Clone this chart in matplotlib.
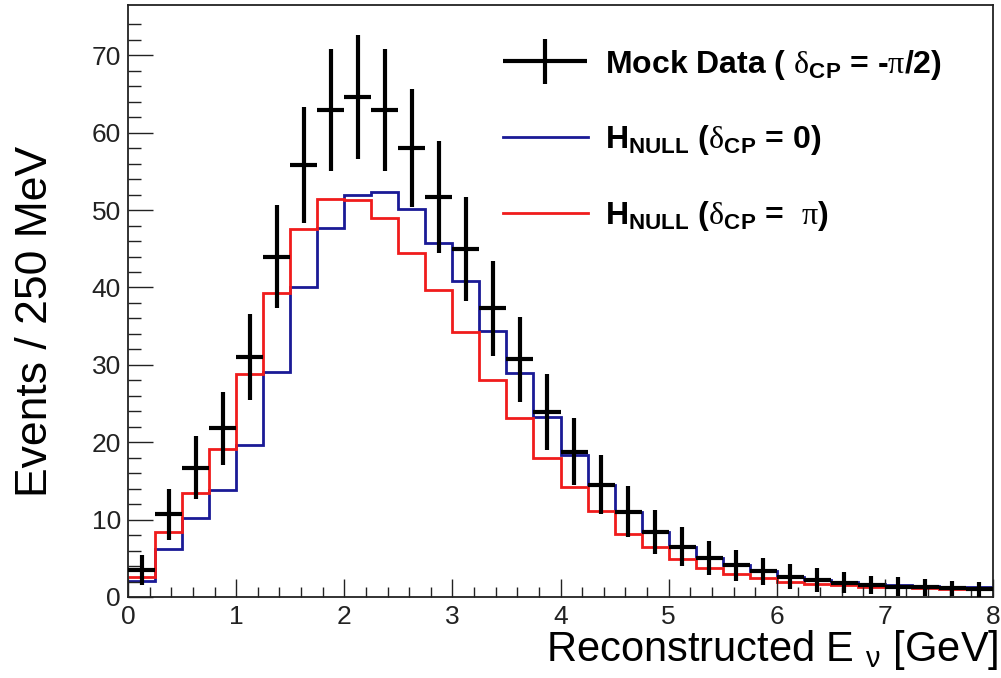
import numpy as np
import matplotlib.pyplot as plt
from matplotlib.lines import Line2D
from matplotlib.legend_handler import HandlerErrorbar
from matplotlib.container import ErrorbarContainer

plt.rcParams['font.family'] = ['Liberation Sans', 'DejaVu Sans']
plt.rcParams['mathtext.fontset'] = 'custom'
plt.rcParams['mathtext.rm'] = 'Liberation Serif'
plt.rcParams['mathtext.bf'] = 'Liberation Sans:bold'
plt.rcParams['mathtext.sf'] = 'Liberation Sans'
plt.rcParams['mathtext.it'] = 'Liberation Sans:italic'

# binning: 250 MeV bins from 0 to 8 GeV
bin_lo = 0.0
bin_hi = 8.0
bin_w = 0.25

# mock data (delta_CP = -pi/2) and its errors
data = [3.5, 10.7, 16.7, 21.8, 31.0, 44.0, 55.8, 62.9, 64.6, 62.9, 58.0, 51.7,
        45.0, 37.3, 30.7, 23.9, 18.8, 14.5, 11.0, 8.4, 6.5, 5.0, 4.1, 3.3,
        2.6, 2.2, 1.85, 1.55, 1.33, 1.25, 1.1, 1.0]
data_err = [1.9, 3.3, 4.1, 4.7, 5.6, 6.6, 7.5, 7.9, 8.0, 7.9, 7.6, 7.2,
            6.7, 6.1, 5.5, 4.9, 4.3, 3.8, 3.3, 2.9, 2.5, 2.2, 2.0, 1.8,
            1.6, 1.5, 1.4, 1.2, 1.2, 1.1, 1.0, 1.0]

# null hypotheses
h_null_0 = [2.1, 6.2, 10.2, 13.8, 19.6, 29.1, 40.1, 47.7, 51.9, 52.3, 50.1, 45.8,
            40.8, 34.4, 29.0, 23.2, 18.4, 14.5, 11.0, 8.4, 6.5, 5.1, 4.1, 3.3,
            2.6, 2.2, 2.0, 1.65, 1.55, 1.42, 1.33, 1.25]
h_null_pi = [2.6, 8.4, 13.4, 19.1, 28.8, 39.3, 47.6, 51.4, 51.3, 49.0, 44.5, 39.7,
             34.2, 28.1, 23.1, 18.0, 14.2, 11.1, 8.1, 6.4, 4.9, 3.8, 3.0, 2.4,
             2.0, 1.7, 1.5, 1.33, 1.25, 1.15, 1.05, 0.97]

edges = np.arange(bin_lo, bin_hi + bin_w / 2, bin_w)
centers = edges[:-1] + bin_w / 2

fig = plt.figure(figsize=(10.01, 6.78), dpi=100)
ax = fig.add_axes([0.1279, 0.1195, 0.8641, 0.8731])

ax.stairs(h_null_0, edges, color='#1a1a96', lw=2.0, baseline=None)
ax.stairs(h_null_pi, edges, color='#f01c1c', lw=2.0, baseline=None)
eb = ax.errorbar(centers, data, yerr=data_err, xerr=bin_w / 2, fmt='none',
                 ecolor='black', elinewidth=3, capsize=0, zorder=3)

ax.set_xlim(bin_lo, bin_hi)
ax.set_ylim(0, 76.5)
ax.set_xticks(np.arange(0, 9, 1))
ax.set_xticks(np.arange(0, 8.01, 0.2), minor=True)
ax.set_yticks(np.arange(0, 71, 10))
ax.set_yticks(np.arange(0, 76, 2), minor=True)

ax.tick_params(which='both', direction='in', top=False, right=False,
               width=1.0, colors='#222222', labelsize=19)
ax.xaxis.set_tick_params(which='major', length=13, pad=6)
ax.xaxis.set_tick_params(which='minor', length=7)
ax.yaxis.set_tick_params(which='major', length=18, pad=5)
ax.yaxis.set_tick_params(which='minor', length=9.5)
for s in ax.spines.values():
    s.set_linewidth(1.3)
    s.set_color('#222222')

ax.set_xlabel(r'Reconstructed E $_{\mathsf{\nu}}$ [GeV]', fontsize=30, loc='right')
ax.xaxis.set_label_coords(1.006, -0.052)
ax.xaxis.label.set_va('top')
ax.set_ylabel('Events / 250 MeV', fontsize=32)
ax.yaxis.set_label_coords(-0.083, 0.465)

blue_h = Line2D([], [], color='#1a1a96', lw=2.0)
red_h = Line2D([], [], color='#f01c1c', lw=2.0)
labels = [r'Mock Data ( $\mathrm{\delta}_{\mathbf{CP}}$ = -$\mathrm{\pi}$/2)',
          r'H$_{\mathbf{NULL}}$ ($\mathrm{\delta}_{\mathbf{CP}}$ = 0)',
          r'H$_{\mathbf{NULL}}$ ($\mathrm{\delta}_{\mathbf{CP}}$ =  $\mathrm{\pi}$)']
ax.legend([eb, blue_h, red_h], labels, loc='upper left',
          bbox_to_anchor=(0.4335, 0.928), frameon=False, borderpad=0,
          borderaxespad=0, handlelength=2.65, handletextpad=0.55,
          labelspacing=1.3, prop={'weight': 'bold', 'size': 23},
          handler_map={ErrorbarContainer: HandlerErrorbar(xerr_size=1.32,
                                                         yerr_size=0.7)})

fig.savefig('out.png', dpi=100)
